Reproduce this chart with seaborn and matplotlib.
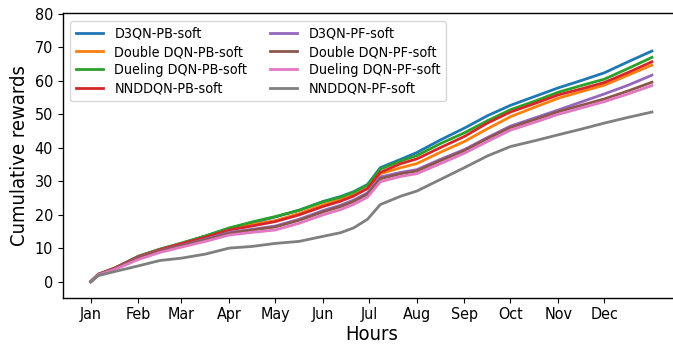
import matplotlib
matplotlib.use("Agg")
import matplotlib.pyplot as plt
from matplotlib.font_manager import FontProperties
import seaborn as sns
import pandas as pd

# Hour of the year at which each cumulative reward was sampled
hours = [0, 120, 372, 744, 1080, 1416, 1788, 2160, 2520, 2880, 3252, 3624, 3900, 4100,
         4320, 4520, 4840, 5088, 5460, 5832, 6192, 6552, 6924, 7296, 7656, 8016, 8388, 8760]

d3qn_pb = [0, 2.2, 4.0, 7.6, 9.7, 11.5, 13.6, 15.9, 17.6, 19.3, 21.3, 23.9, 25.4, 26.8,
           29.0, 34.0, 36.5, 38.5, 42.3, 45.8, 49.5, 52.6, 55.2, 57.8, 60.0, 62.3, 65.6, 68.8]
double_pb = [0, 2.2, 4.0, 7.5, 9.6, 11.4, 13.4, 15.7, 17.0, 18.2, 20.3, 22.9, 24.5, 25.8,
             27.8, 32.2, 34.0, 35.2, 38.6, 41.8, 45.6, 49.2, 52.0, 54.7, 56.7, 58.6, 61.6, 64.6]
dueling_pb = [0, 2.2, 4.0, 7.5, 9.6, 11.4, 13.6, 16.0, 17.8, 19.4, 21.3, 23.8, 25.2, 26.6,
              28.8, 33.6, 36.0, 37.6, 41.2, 44.4, 48.0, 51.3, 53.8, 56.5, 58.5, 60.4, 63.6, 66.9]
nnddqn_pb = [0, 2.2, 4.0, 7.4, 9.5, 11.3, 13.2, 15.4, 16.6, 17.9, 19.9, 22.4, 24.0, 25.5,
             27.8, 32.6, 35.2, 36.6, 40.0, 43.3, 47.3, 50.6, 53.1, 55.7, 57.5, 59.4, 62.4, 65.6]
d3qn_pf = [0, 2.1, 3.8, 7.2, 9.2, 10.8, 12.6, 14.7, 15.6, 16.6, 18.6, 21.2, 22.8, 24.3,
           26.5, 31.2, 32.6, 33.4, 36.5, 39.4, 43.0, 46.4, 48.8, 51.2, 53.6, 56.0, 58.6, 61.6]
double_pf = [0, 2.1, 3.8, 7.1, 9.1, 10.7, 12.4, 14.4, 15.4, 16.3, 18.3, 20.8, 22.4, 23.9,
             26.1, 30.7, 32.2, 33.0, 36.1, 39.1, 42.7, 46.0, 48.3, 50.7, 52.6, 54.5, 56.9, 59.5]
dueling_pf = [0, 2.0, 3.6, 6.6, 8.7, 10.3, 12.0, 13.9, 14.7, 15.4, 17.4, 19.9, 21.5, 23.0,
              25.2, 29.8, 31.4, 32.2, 35.2, 38.3, 41.8, 45.2, 47.5, 49.9, 51.8, 53.7, 56.0, 58.5]
nnddqn_pf = [0, 1.8, 3.0, 4.7, 6.3, 7.0, 8.2, 10.0, 10.5, 11.4, 12.0, 13.5, 14.6, 16.0,
             18.6, 23.0, 25.5, 27.0, 30.5, 34.0, 37.5, 40.3, 42.0, 43.8, 45.5, 47.3, 49.0, 50.6]

series_names = ["D3QN-PB-soft", "Double DQN-PB-soft", "Dueling DQN-PB-soft", "NNDDQN-PB-soft",
                "D3QN-PF-soft", "Double DQN-PF-soft", "Dueling DQN-PF-soft", "NNDDQN-PF-soft"]
series_values = [d3qn_pb, double_pb, dueling_pb, nnddqn_pb,
                 d3qn_pf, double_pf, dueling_pf, nnddqn_pf]

month_starts = [0, 744, 1416, 2160, 2880, 3624, 4344, 5088, 5832, 6552, 7296, 8016]
month_labels = ["Jan", "Feb", "Mar", "Apr", "May", "Jun",
                "Jul", "Aug", "Sep", "Oct", "Nov", "Dec"]

frames = [pd.DataFrame({"Hours": hours, "Cumulative rewards": vals, "Method": name})
          for name, vals in zip(series_names, series_values)]
df = pd.concat(frames, ignore_index=True)

plt.rcParams["font.family"] = ["DejaVu Sans"]
plt.rcParams["font.stretch"] = "condensed"
fig = plt.figure(figsize=(6.73, 3.45), dpi=100)
ax = fig.add_axes([62.7 / 673, 1 - 297.7 / 345, (680 - 62.7) / 673, (297.7 - 12.5) / 345])

sns.lineplot(data=df, x="Hours", y="Cumulative rewards", hue="Method",
             hue_order=series_names, palette="tab10", linewidth=2.0, ax=ax)

ax.set_xlim(-438, 9198)
ax.set_ylim(-4.8, 80.3)
ax.set_xticks(month_starts)
ax.set_xticklabels(month_labels, fontsize=11.5)
ax.set_yticks(range(0, 81, 10))
ax.tick_params(axis="y", labelsize=11.5)
ax.set_xlabel("Hours", fontsize=14.5, labelpad=2)
ax.set_ylabel("Cumulative rewards", fontsize=14.5, labelpad=4)
for side in ("left", "bottom", "top", "right"):
    ax.spines[side].set_visible(True)
    ax.spines[side].set_color("black")
    ax.spines[side].set_linewidth(1.0)

legend_font = FontProperties(family="DejaVu Sans", stretch="condensed", size=10.3)
ax.legend(loc="upper left", ncol=2, prop=legend_font, frameon=True,
          bbox_to_anchor=(0.005, 0.985), columnspacing=1.6, labelspacing=0.3,
          handlelength=1.9, borderaxespad=0.3)

fig.savefig("out.png", dpi=100)
